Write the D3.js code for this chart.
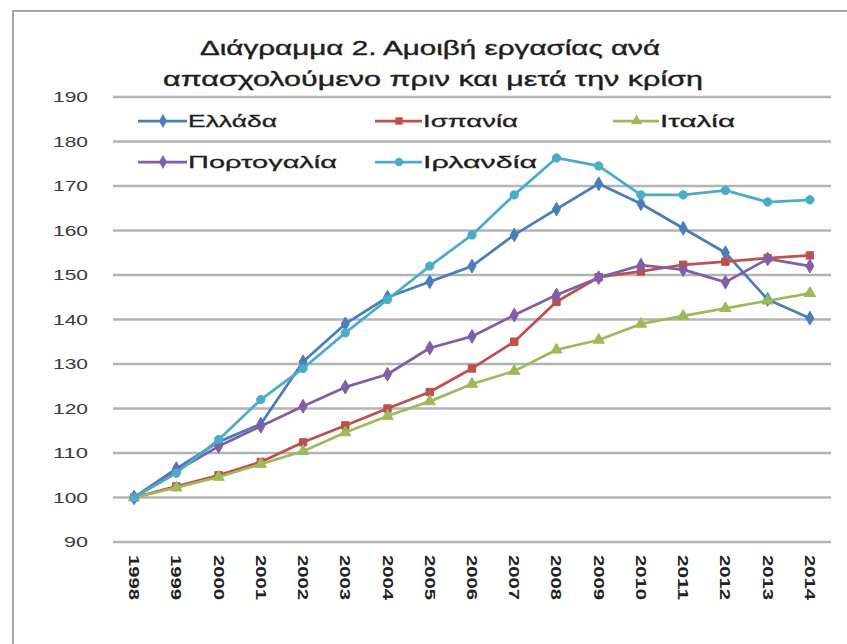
<!DOCTYPE html>
<html>
<head>
<meta charset="utf-8">
<script src="https://cdn.jsdelivr.net/npm/d3@7"></script>
<style>
  body { margin: 0; background: #fff; }
  svg { display: block; }
</style>
</head>
<body>
<svg id="chart" width="847" height="644"></svg>
<script>
const WIDTH = 847;
const HEIGHT = 644;

const titleLines = ['Διάγραμμα 2. Αμοιβή εργασίας ανά', 'απασχολούμενο πριν και μετά την κρίση'];
const years = ['1998', '1999', '2000', '2001', '2002', '2003', '2004', '2005', '2006', '2007', '2008', '2009', '2010', '2011', '2012', '2013', '2014'];
const yTicks = [90, 100, 110, 120, 130, 140, 150, 160, 170, 180, 190];

const greece   = [100, 106.5, 112.5, 116.5, 130.5, 139, 145, 148.5, 152, 159, 164.8, 170.5, 166, 160.5, 155, 144.5, 140.3];
const spain    = [100, 102.5, 105, 108, 112.4, 116.2, 120, 123.7, 129, 135, 144, 149.5, 150.8, 152.3, 153, 153.8, 154.4];
const italy    = [100, 102.2, 104.6, 107.5, 110.4, 114.6, 118.3, 121.6, 125.5, 128.4, 133.2, 135.4, 139, 140.8, 142.5, 144.2, 145.9];
const portugal = [100, 106, 111.5, 116, 120.5, 124.8, 127.7, 133.6, 136.2, 141, 145.5, 149.4, 152.2, 151.2, 148.4, 153.6, 152];
const ireland  = [100, 105.5, 113, 122, 129, 137, 144.5, 152, 159, 168, 176.3, 174.5, 168, 168, 169, 166.4, 166.9];

const seriesNames = ['Ελλάδα', 'Ισπανία', 'Ιταλία', 'Πορτογαλία', 'Ιρλανδία'];

// built from the arrays above
const series = [
  { name: seriesNames[0], values: greece,   color: '#4a7ebb', symbol: d3.symbolDiamond },
  { name: seriesNames[1], values: spain,    color: '#c0504d', symbol: d3.symbolSquare },
  { name: seriesNames[2], values: italy,    color: '#9bbb59', symbol: d3.symbolTriangle },
  { name: seriesNames[3], values: portugal, color: '#7f5fa8', symbol: d3.symbolDiamond },
  { name: seriesNames[4], values: ireland,  color: '#4bacc6', symbol: d3.symbolCircle }
];

// legend slots: [lineStart, textStart, textWidth, rowY]
const legendSlots = [
  [138, 188, 89, 121],
  [375, 423, 95, 121],
  [613, 660, 75, 121],
  [138, 188, 149, 162],
  [375, 423, 114, 162]
];

const svg = d3.select('#chart');

// outer frame (only top and left edges are in view)
svg.append('path')
  .attr('d', `M13,${HEIGHT} L13,11 L${WIDTH},11`)
  .attr('fill', 'none')
  .attr('stroke', '#a6a6a6')
  .attr('stroke-width', 2);

const x = d3.scaleBand().domain(years).range([113, 831]);
const y = d3.scaleLinear().domain([90, 190]).range([542, 97]);
const cx = d => x(d) + x.bandwidth() / 2;

// gridlines
svg.append('g')
  .selectAll('line')
  .data(yTicks)
  .join('line')
  .attr('x1', 113)
  .attr('x2', 831)
  .attr('y1', d => y(d))
  .attr('y2', d => y(d))
  .attr('stroke', '#b4b4b4')
  .attr('stroke-width', 2.5);

// y axis labels
svg.append('g')
  .selectAll('text')
  .data(yTicks)
  .join('text')
  .attr('x', 88)
  .attr('y', d => y(d) + 5)
  .attr('text-anchor', 'end')
  .attr('textLength', d => String(d).length === 3 ? 35 : 24)
  .attr('lengthAdjust', 'spacingAndGlyphs')
  .style('font', '14px "Liberation Sans", sans-serif')
  .style('fill', '#3a3a3a')
  .text(d => d);

// x axis labels, rotated
svg.append('g')
  .selectAll('text')
  .data(years)
  .join('text')
  .attr('transform', d => `translate(${cx(d) - 5},555) rotate(90)`)
  .attr('textLength', 45)
  .attr('lengthAdjust', 'spacingAndGlyphs')
  .style('font', 'bold 14px "Liberation Sans", sans-serif')
  .style('fill', '#222')
  .text(d => d);

// title
const titleX = [[200, 460], [163, 540]];
svg.append('g')
  .selectAll('text')
  .data(titleLines)
  .join('text')
  .attr('x', (d, i) => titleX[i][0])
  .attr('y', (d, i) => 55 + i * 31)
  .attr('textLength', (d, i) => titleX[i][1])
  .attr('lengthAdjust', 'spacingAndGlyphs')
  .style('font', '21px "Liberation Sans", sans-serif')
  .style('fill', '#1e1e1e')
  .style('stroke', '#1e1e1e')
  .style('stroke-width', 0.4)
  .text(d => d);

// lines
const line = d3.line()
  .x((d, i) => cx(years[i]))
  .y(d => y(d));

const groups = svg.append('g')
  .selectAll('g')
  .data(series)
  .join('g');

groups.append('path')
  .attr('d', d => line(d.values))
  .attr('fill', 'none')
  .attr('stroke', d => d.color)
  .attr('stroke-width', 2.75)
  .attr('stroke-linejoin', 'round');

groups.selectAll('path.marker')
  .data(d => d.values.map((v, i) => ({ v, i, s: d })))
  .join('path')
  .classed('marker', true)
  .attr('transform', d => `translate(${cx(years[d.i])},${y(d.v)})`)
  .attr('d', d => d3.symbol().type(d.s.symbol).size(55)())
  .attr('fill', d => d.s.color)
  .attr('stroke', d => d.s.color)
  .attr('stroke-width', 1);

// legend
const legend = svg.append('g')
  .selectAll('g')
  .data(series)
  .join('g')
  .attr('transform', (d, i) => `translate(0,${legendSlots[i][3]})`);

legend.append('line')
  .attr('x1', (d, i) => legendSlots[i][0])
  .attr('x2', (d, i) => legendSlots[i][1] - 1)
  .attr('stroke', d => d.color)
  .attr('stroke-width', 2.75);

legend.append('path')
  .attr('transform', (d, i) => `translate(${(legendSlots[i][0] + legendSlots[i][1]) / 2},0)`)
  .attr('d', d => d3.symbol().type(d.symbol).size(55)())
  .attr('fill', d => d.color);

legend.append('text')
  .attr('x', (d, i) => legendSlots[i][1])
  .attr('y', 6)
  .attr('textLength', (d, i) => legendSlots[i][2])
  .attr('lengthAdjust', 'spacingAndGlyphs')
  .style('font', '17px "Liberation Sans", sans-serif')
  .style('fill', '#1e1e1e')
  .style('stroke', '#1e1e1e')
  .style('stroke-width', 0.3)
  .text(d => d.name);
</script>
</body>
</html>
